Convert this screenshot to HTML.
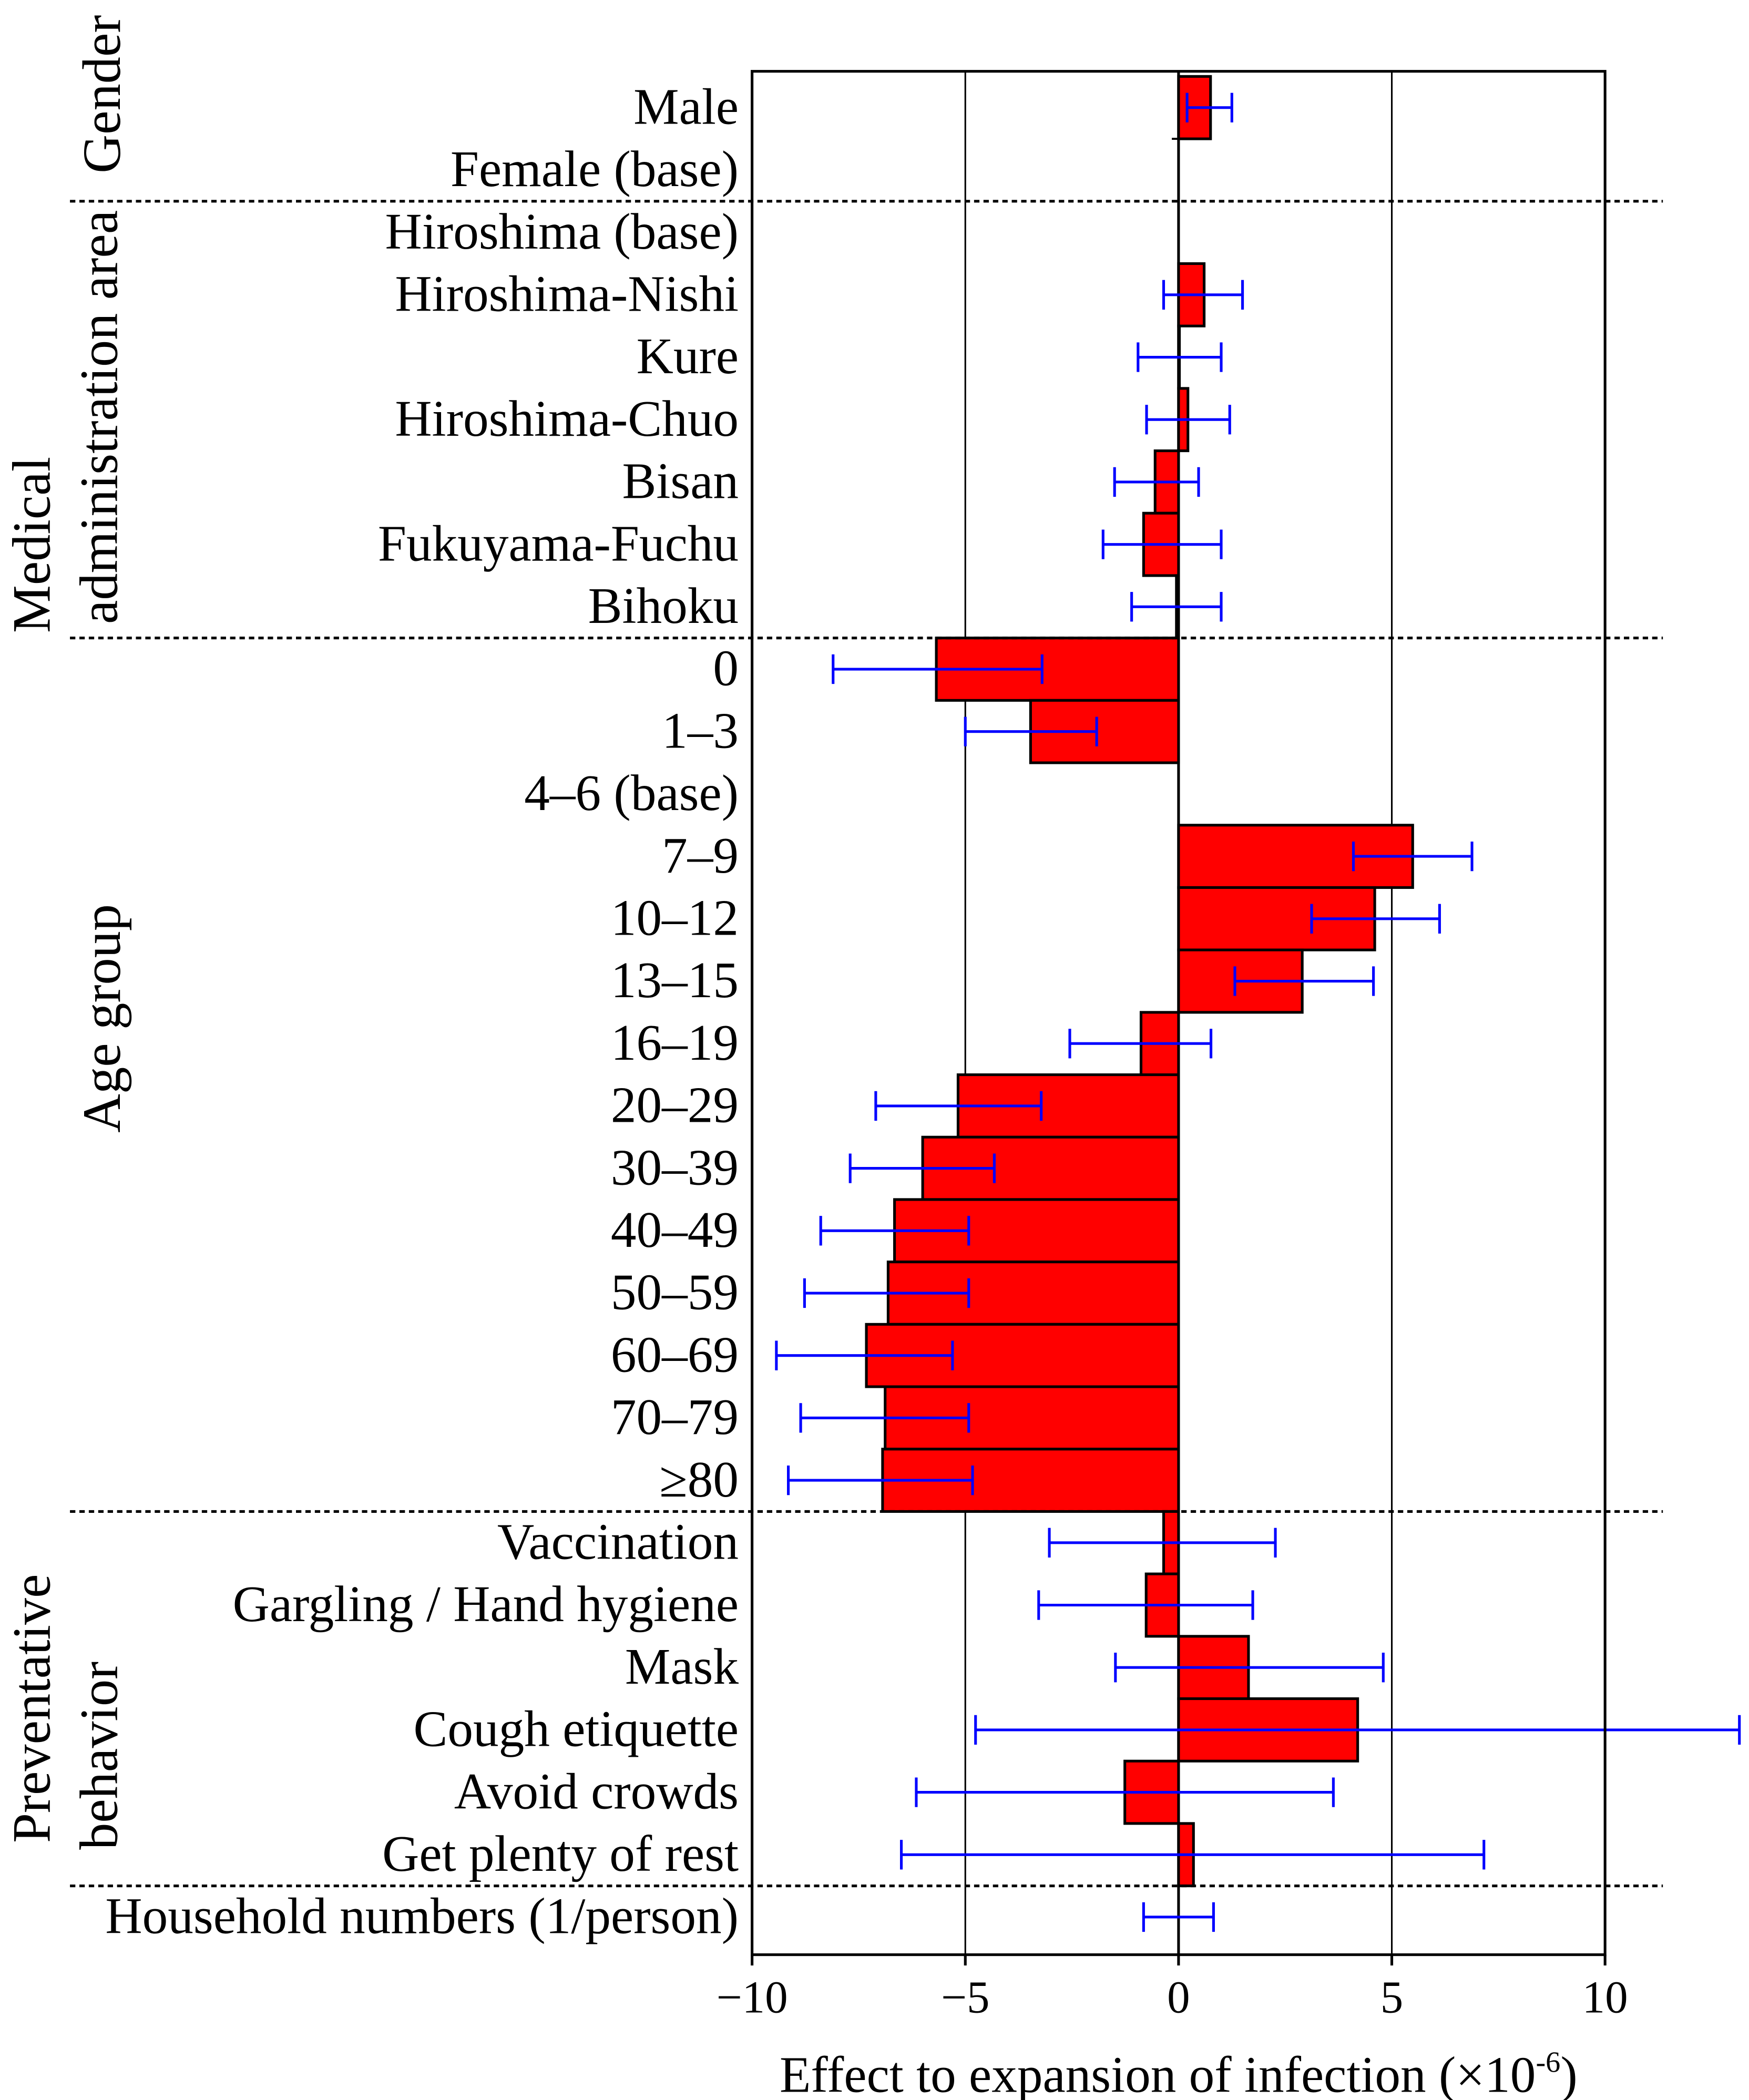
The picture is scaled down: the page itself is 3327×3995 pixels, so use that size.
<!DOCTYPE html>
<html><head><meta charset="utf-8"><style>
html,body{margin:0;padding:0;background:#fff;}
svg{display:block;}
text{font-family:"Liberation Serif",serif;fill:#000;}
</style></head><body>
<svg id="chart" width="3327" height="3995" viewBox="0 0 1300 1561" preserveAspectRatio="none" xmlns="http://www.w3.org/2000/svg"></svg>
<script>
const categories = ["Male","Female (base)","Hiroshima (base)","Hiroshima-Nishi","Kure","Hiroshima-Chuo","Bisan","Fukuyama-Fuchu","Bihoku","0","1\u20133","4\u20136 (base)","7\u20139","10\u201312","13\u201315","16\u201319","20\u201329","30\u201339","40\u201349","50\u201359","60\u201369","70\u201379","\u226580","Vaccination","Gargling / Hand hygiene","Mask","Cough etiquette","Avoid crowds","Get plenty of rest","Household numbers (1/person)"];
const effects = [0.75,null,null,0.6,0.02,0.22,-0.55,-0.82,-0.05,-5.68,-3.47,null,5.49,4.6,2.9,-0.88,-5.17,-6.0,-6.66,-6.81,-7.32,-6.88,-6.94,-0.35,-0.76,1.64,4.2,-1.26,0.35,0];
const errLow = [0.2,null,null,-0.35,-0.95,-0.75,-1.5,-1.77,-1.1,-8.1,-5.0,null,4.1,3.12,1.32,-2.55,-7.1,-7.7,-8.39,-8.77,-9.43,-8.86,-9.15,-3.03,-3.28,-1.48,-4.76,-6.15,-6.5,-0.82];
const errHigh = [1.25,null,null,1.5,1.0,1.2,0.47,1.0,1.0,-3.2,-1.92,null,6.88,6.12,4.57,0.76,-3.22,-4.32,-4.92,-4.92,-5.3,-4.92,-4.83,2.27,1.74,4.8,13.15,3.63,7.16,0.82];
const xTicks = [-10,-5,0,5,10];
const xTickLabels = ["\u221210","\u22125","0","5","10"];
const separatorsAfter = [1,8,22,28];

const NS="http://www.w3.org/2000/svg";
const svg=document.getElementById('chart');
const L=559,R=1193,T=53,B=1453;
const x=v=>L+(v+10)/20*(R-L);
const step=46.38, c0=80;
const yc=i=>c0+i*step;
function mk(tag,attrs,parent){const e=document.createElementNS(NS,tag);for(const k in attrs)e.setAttribute(k,attrs[k]);(parent||svg).appendChild(e);return e;}

xTicks.forEach((t,i)=>{
  if(t===-10||t===10) return;
  const g=mk('line',{x1:x(t),x2:x(t),y1:T,y2:B,stroke:'#000','stroke-width':t===0?2:1.2});
  
  
});
categories.forEach((c,i)=>{
  const v=effects[i];
  if(v!==null){
    const r=mk('rect',{x:Math.min(x(0),x(v)),y:yc(i)-step/2,width:Math.abs(x(v)-x(0)),height:step,fill:'#ff0000',stroke:'#000','stroke-width':2});
    
    
  } else {
    mk('line',{x1:x(0)-5,x2:x(0),y1:yc(i)-step/2,y2:yc(i)-step/2,stroke:'#000','stroke-width':1.5});
  }
  const lab=mk('text',{x:549,y:yc(i)+12,'text-anchor':'end','font-size':38});
  lab.textContent=c;
  
  
});
categories.forEach((c,i)=>{
  if(errLow[i]===null) return;
  const g=mk('g',{stroke:'#0000ff','stroke-width':2});
  
  
  const y=yc(i), a=x(errLow[i]), b=x(errHigh[i]);
  mk('line',{x1:a,x2:b,y1:y,y2:y},g);
  mk('line',{x1:a,x2:a,y1:y-11,y2:y+11},g);
  mk('line',{x1:b,x2:b,y1:y-11,y2:y+11},g);
});
separatorsAfter.forEach(i=>{
  const y=yc(i)+step/2;
  const s=mk('line',{x1:52,x2:1236,y1:y,y2:y,stroke:'#000','stroke-width':2,'stroke-dasharray':'4,3'});
  
  
});
const fr=mk('rect',{x:L,y:T,width:R-L,height:B-T,fill:'none',stroke:'#000','stroke-width':2});


xTicks.forEach((t,i)=>{
  mk('line',{x1:x(t),x2:x(t),y1:B,y2:B+8,stroke:'#000','stroke-width':2});
  const tl=mk('text',{x:x(t),y:1496,'text-anchor':'middle','font-size':34});
  tl.textContent=xTickLabels[i];
  
  
});
</script>
<svg style="position:absolute;left:0;top:0" width="3327" height="3995" viewBox="0 0 1300 1561" preserveAspectRatio="none">
<text x="876" y="1555" text-anchor="middle" font-size="38">Effect to expansion of infection (×10<tspan font-size="22" dy="-15">-6</tspan><tspan dy="15">)</tspan></text>
<text transform="translate(89,70) rotate(-90)" text-anchor="middle" font-size="40">Gender</text>
<text transform="translate(37,405) rotate(-90)" text-anchor="middle" font-size="40">Medical</text>
<text transform="translate(87,310) rotate(-90)" text-anchor="middle" font-size="40">administration area</text>
<text transform="translate(89,757) rotate(-90)" text-anchor="middle" font-size="40">Age group</text>
<text transform="translate(37,1270) rotate(-90)" text-anchor="middle" font-size="40">Preventative</text>
<text transform="translate(87,1305) rotate(-90)" text-anchor="middle" font-size="40">behavior</text>
</svg>
</body></html>
